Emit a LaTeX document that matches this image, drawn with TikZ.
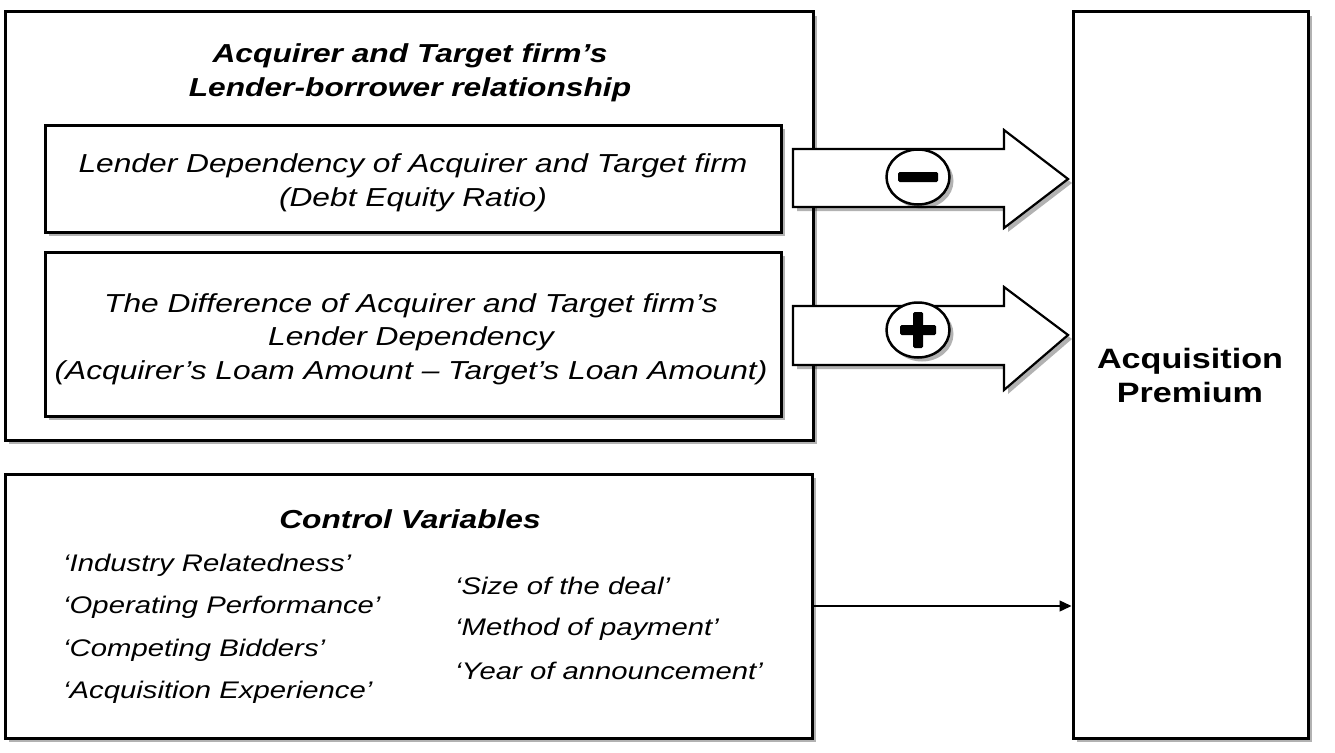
\documentclass[tikz,border=0pt]{standalone}
\usepackage{fontspec}
\setmainfont[FakeStretch=1.22]{Liberation Sans}
\usetikzlibrary{shadows,shapes.geometric,arrows.meta,calc}
\tikzset{
  shad/.style={drop shadow={shadow xshift=4pt,shadow yshift=-4pt,opacity=0.3,fill=black}},
  box/.style={draw=black,line width=3pt,fill=white,shad,inner sep=0pt},
  fat/.style={draw=black,line width=2.2pt,fill=white,shad,line join=miter},
  sign/.style={draw=black,line width=2.5pt,fill=white,ellipse,shad,minimum width=63pt,minimum height=55pt,inner sep=0pt},
  txt/.style={font=\fontsize{26}{33.5}\selectfont\itshape,align=center},
  ttl/.style={font=\fontsize{26}{34}\selectfont\bfseries\itshape,align=center},
  item/.style={font=\fontsize{24}{30}\selectfont\itshape,anchor=west,inner sep=0pt},
}
\begin{document}
\begin{tikzpicture}[x=1pt,y=-1pt]
\useasboundingbox (0,0) rectangle (1335,752);
% outer and boxes
\node[box,minimum width=808pt,minimum height=428pt] (outer) at (409,226) {};
\node[box,minimum width=736pt,minimum height=107pt] (ld) at (413,178.5) {};
\node[box,minimum width=736pt,minimum height=164pt] (diff) at (413,334) {};
\node[box,minimum width=807pt,minimum height=264pt] (ctrl) at (408.5,606) {};
\node[box,minimum width=235pt,minimum height=726pt] (prem) at (1190.5,375) {};
% texts
\node[ttl] (t1) at (410,73) {Acquirer and Target firm’s\\Lender-borrower relationship};
\node[txt] (t2) at (413,183) {Lender Dependency of Acquirer and Target firm\\(Debt Equity Ratio)};
\node[txt] (t3) at (411,339) {The Difference of Acquirer and Target firm’s\\Lender Dependency\\(Acquirer’s Loam Amount – Target’s Loan Amount)};
\node[font=\fontsize{28}{34}\selectfont\bfseries,align=center] (t4) at (1190,375) {Acquisition\\Premium};
\node[ttl] (t5) at (410,519) {Control Variables};
\node[item] (i1) at (63,565) {‘Industry Relatedness’};
\node[item] (i2) at (63,607) {‘Operating Performance’};
\node[item] (i3) at (63,650) {‘Competing Bidders’};
\node[item] (i4) at (63,692) {‘Acquisition Experience’};
\node[item] (i5) at (455,586) {‘Size of the deal’};
\node[item] (i6) at (455,629) {‘Method of payment’};
\node[item] (i7) at (455,671) {‘Year of announcement’};
% fat arrows
\draw[fat] (793,149) -- (1004,149) -- (1004,130) -- (1068,179) -- (1004,228) -- (1004,207) -- (793,207) -- cycle;
\draw[fat] (793,306) -- (1004,306) -- (1004,287) -- (1068,335) -- (1004,390) -- (1004,365) -- (793,365) -- cycle;
\node[sign] (minus) at (918,177) {};
\node[sign] (plus) at (918,330) {};
\fill[rounded corners=1.5pt] ($(minus.center)+(-20,-5)$) rectangle ($(minus.center)+(20,5)$);
\fill[rounded corners=1.5pt] ($(plus.center)+(-18,-5)$) rectangle ($(plus.center)+(18,5)$);
\fill[rounded corners=1.5pt] ($(plus.center)+(-5,-18)$) rectangle ($(plus.center)+(5,18)$);
% control arrow
\draw[line width=1.3pt,-{Triangle[length=12pt,width=11pt]}] (ctrl.east) -- (prem.west |- ctrl.east);
\end{tikzpicture}
\end{document}
